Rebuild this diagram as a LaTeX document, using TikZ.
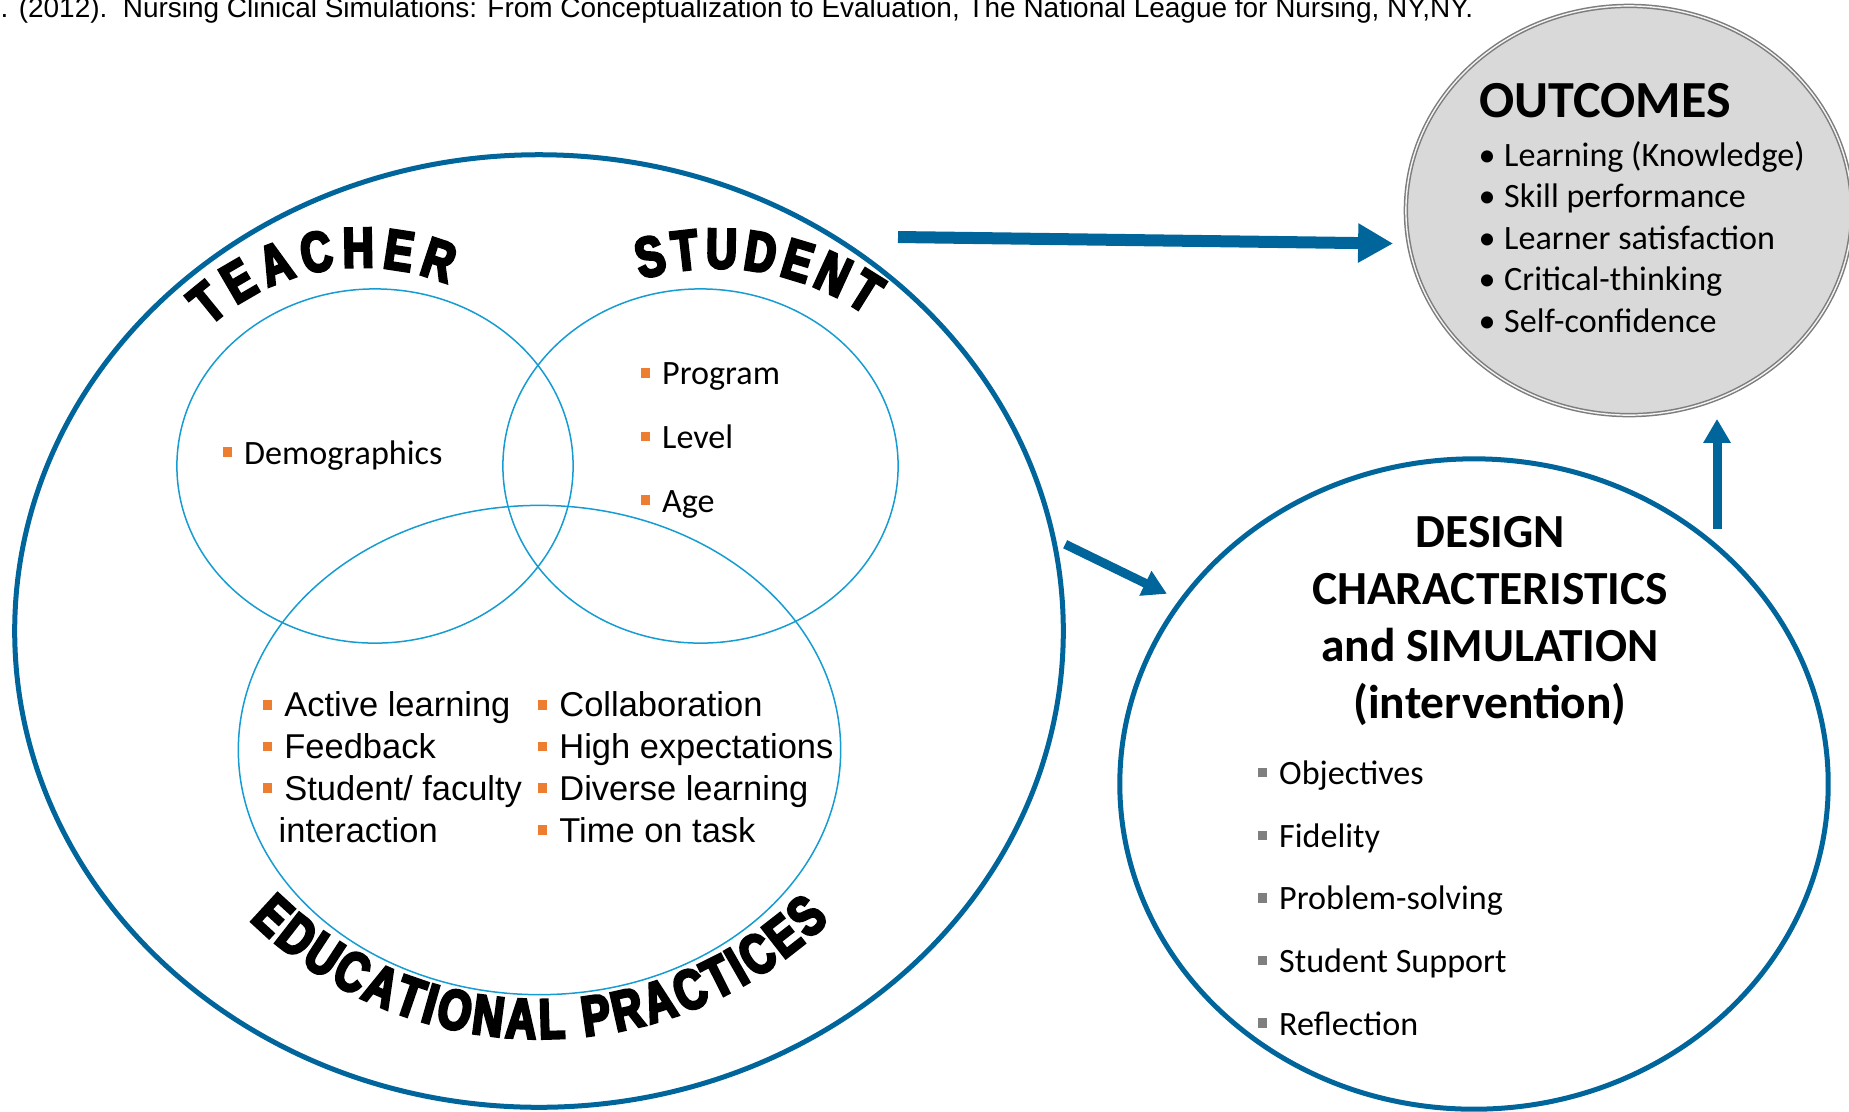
\documentclass[tikz,border=0pt]{standalone}
\usepackage{fontspec}
\setmainfont{Carlito}
\newfontfamily\arialfont{Liberation Sans}
\newfontfamily\wordart{Liberation Sans}[FakeStretch=0.76,FakeBold=5]
\usetikzlibrary{shapes.geometric,arrows.meta,decorations.text}

\definecolor{ringblue}{RGB}{0,101,154}
\definecolor{vennblue}{RGB}{22,156,211}
\definecolor{bulorange}{RGB}{237,125,49}
\definecolor{bulgray}{RGB}{127,127,127}
\definecolor{outfill}{RGB}{217,217,217}
\definecolor{outline}{RGB}{125,125,125}

\newcommand{\sqbul}[1]{\textcolor{#1}{\rule[0.21em]{0.27em}{0.28em}}\hspace{0.36em}}
\newcommand{\arcfont}{\wordart\bfseries\fontsize{16}{16}\selectfont}

\begin{document}
\begin{tikzpicture}[x=0.01cm, y=0.01cm,
    ring/.style={ellipse, draw=ringblue, line width=0.05cm, inner sep=0pt},
    venn/.style={ellipse, draw=vennblue, line width=0.015cm, inner sep=0pt},
    flow/.style={ringblue, line width=0.09cm, -{Triangle[width=0.26cm,length=0.24cm]}},
    arctext/.style={decorate, decoration={text along path, text={|\arcfont|#1}, text align={fit to path}}},
    list/.style={anchor=base west, align=left, inner sep=0pt}]
  \useasboundingbox (0,-1111) rectangle (1849,0);

  \node[anchor=base west, inner sep=0pt, font=\arialfont\fontsize{7.95}{9}\selectfont] (cite) at (0,-17)
    {. (2012).\ \ Nursing Clinical Simulations: From Conceptualization to Evaluation, The National League for Nursing, NY,NY.};

  % left ring with the three circles
  \node[ring, minimum width=10.48cm, minimum height=9.52cm] (outer) at (539,-631) {};
  \node[venn, minimum width=3.96cm, minimum height=3.54cm] (teacher) at (375,-466) {};
  \node[venn, minimum width=3.95cm, minimum height=3.54cm] (student) at (700.5,-466) {};
  \node[venn, minimum width=6.02cm, minimum height=4.89cm] (practice) at (539.5,-750) {};

  \path[arctext=TEACHER] ([shift={(132.5:226)}]362,-493) arc[start angle=132.5, end angle=67.8, radius=226];
  \path[arctext=STUDENT] ([shift={(106.8:262)}]716.5,-530) arc[start angle=106.8, end angle=55.1, radius=262];
  \path[arctext={EDUCATIONAL PRACTICES}] ([shift={(225.5:414.5)}]540,-624) arc[start angle=225.5, end angle=314.3, radius=414.5];

  % lists sit on the baseline of their last line
  \node[list, font=\fontsize{9.7}{11}\selectfont] (demo) at (222,-464) {\sqbul{bulorange}Demographics};
  \node[list, font=\fontsize{9.7}{18.07}\selectfont] (stud) at (640,-512)
    {\sqbul{bulorange}Program\\\sqbul{bulorange}Level\\\sqbul{bulorange}Age};
  \node[list, font=\arialfont\fontsize{9.8}{11.86}\selectfont] (edua) at (262,-842)
    {\sqbul{bulorange}Active learning\\\sqbul{bulorange}Feedback\\\sqbul{bulorange}Student/ faculty\\\hspace*{0.16cm}interaction};
  \node[list, font=\arialfont\fontsize{9.8}{11.86}\selectfont] (edub) at (537,-842)
    {\sqbul{bulorange}Collaboration\\\sqbul{bulorange}High expectations\\\sqbul{bulorange}Diverse learning\\\sqbul{bulorange}Time on task};

  % outcomes
  \node[ellipse, draw=outline, line width=0.015cm, double=outfill!30!white, double distance=0.014cm,
        fill=outfill, minimum width=4.46cm, minimum height=4.09cm, inner sep=0pt] (outcomes) at (1629,-210.5) {};
  \node[anchor=base west, inner sep=0pt, font=\bfseries\fontsize{14.8}{16}\selectfont] (otitle) at (1479,-117) {OUTCOMES};
  \node[list, font=\fontsize{9.7}{11.8}\selectfont] (olist) at (1478,-332)
    {\textbullet\hspace{0.25em}Learning (Knowledge)\\\textbullet\hspace{0.25em}Skill performance\\\textbullet\hspace{0.25em}Learner satisfaction\\\textbullet\hspace{0.25em}Critical-thinking\\\textbullet\hspace{0.25em}Self-confidence};

  % design
  \node[ring, minimum width=7.08cm, minimum height=6.5cm] (design) at (1474,-784) {};
  \node[anchor=base, align=center, inner sep=0pt, font=\bfseries\fontsize{13.5}{16.2}\selectfont] (dtitle) at (1490,-718)
    {DESIGN\\CHARACTERISTICS\\and SIMULATION\\(intervention)};
  \node[list, font=\fontsize{9.7}{17.8}\selectfont] (dlist) at (1257,-1035)
    {\sqbul{bulgray}Objectives\\\sqbul{bulgray}Fidelity\\\sqbul{bulgray}Problem-solving\\\sqbul{bulgray}Student Support\\\sqbul{bulgray}Reflection};

  % arrows
  \coordinate (hstart) at (898,-237);
  \coordinate (up) at (1717,-529);
  \draw[flow, line width=0.12cm, -{Triangle[width=0.37cm,length=0.35cm]}] (hstart) -- ([shift={(-12,-33)}]outcomes.west);
  \draw[flow, shorten <=0.1cm, shorten >=0.135cm] (outer.10) -- (design.148);
  \draw[flow, shorten >=0.03cm] (up) -- (up |- outcomes.south);
\end{tikzpicture}
\end{document}
